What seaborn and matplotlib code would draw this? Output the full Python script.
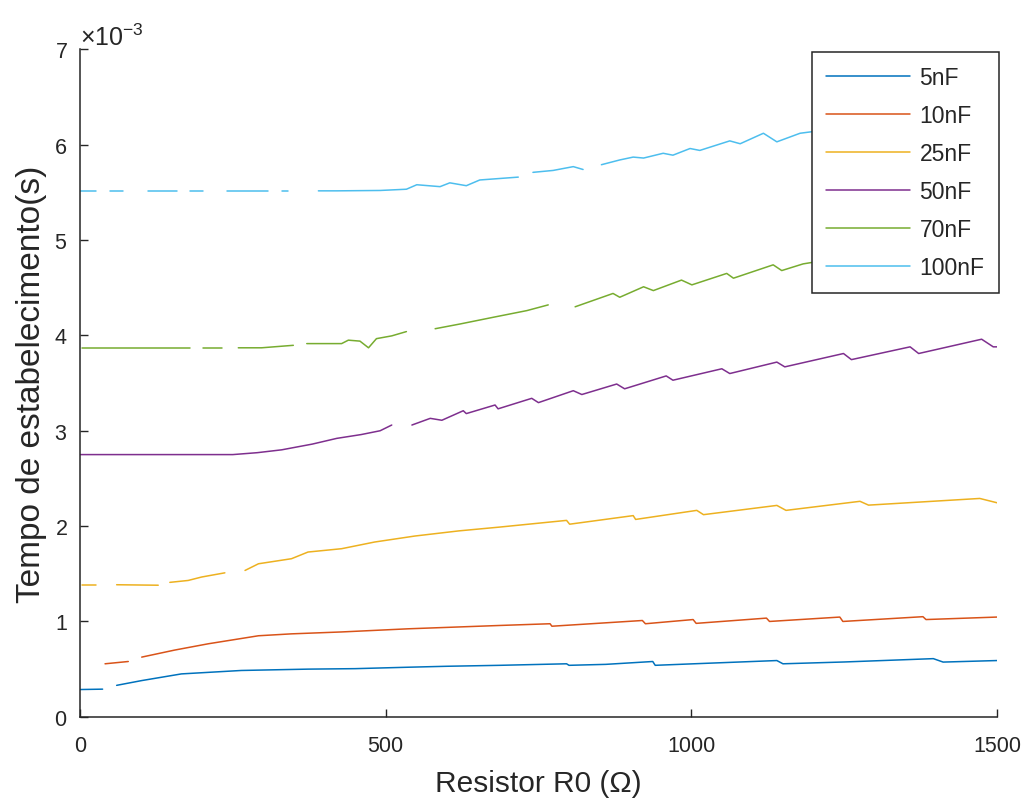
import numpy as np
import pandas as pd
import matplotlib
matplotlib.use("Agg")
import matplotlib.pyplot as plt
import seaborn as sns

nan = np.nan

# ---------------- data (y in units of 1e-3 s; nan = gap in the trace) ----------------
labels = ["5nF", "10nF", "25nF", "50nF", "70nF", "100nF"]

r_5nF = [0, 37, nan, 60, 101, 166, 264, 373, 450, 537, 600, 687, 796, 800, 860, 937, 941,
         1000, 1140, 1150, 1250, 1396, 1412, 1500]
t_5nF = [0.286, 0.29, nan, 0.33, 0.38, 0.45, 0.486, 0.50, 0.505, 0.52, 0.53, 0.54, 0.556, 0.54,
         0.55, 0.58, 0.54, 0.555, 0.59, 0.556, 0.575, 0.61, 0.574, 0.59]

r_10nF = [41, 79, nan, 101, 155, 210, 292, 346, 428, 537, 687, 769, 772, 920, 925, 1003, 1008,
          1123, 1128, 1243, 1248, 1379, 1384, 1500]
t_10nF = [0.556, 0.58, nan, 0.626, 0.70, 0.766, 0.85, 0.87, 0.89, 0.923, 0.958, 0.976, 0.95,
          1.01, 0.976, 1.02, 0.98, 1.035, 1.0, 1.046, 1.0, 1.05, 1.02, 1.046]

r_25nF = [3, 27, nan, 60, 128, nan, 147, 177, 199, 237, nan, 270, 292, 346, 373, 428, 482, 548,
          620, 687, 796, 801, 905, 909, 1009, 1020, 1140, 1155, 1276, 1290, 1472, 1500]
t_25nF = [1.385, 1.385, nan, 1.385, 1.38, nan, 1.41, 1.43, 1.466, 1.51, nan, 1.535, 1.605, 1.658,
          1.728, 1.763, 1.833, 1.896, 1.95, 1.99, 2.06, 2.02, 2.11, 2.07, 2.165, 2.12, 2.217,
          2.165, 2.26, 2.22, 2.29, 2.245]

r_50nF = [0, 250, 290, 330, 380, 420, 460, 491, 510, nan, 543, 573, 592, 627, 632, 679, 684, 739,
          750, 807, 821, 878, 891, 959, 970, 1050, 1063, 1140, 1153, 1249, 1262, 1358, 1372,
          1475, 1494, 1500]
t_50nF = [2.75, 2.75, 2.77, 2.80, 2.86, 2.92, 2.96, 3.0, 3.06, nan, 3.06, 3.13, 3.11, 3.21, 3.18,
          3.27, 3.23, 3.34, 3.295, 3.42, 3.38, 3.49, 3.44, 3.575, 3.53, 3.65, 3.6, 3.72, 3.67,
          3.81, 3.746, 3.88, 3.81, 3.96, 3.88, 3.88]

r_70nF = [3, 180, nan, 202, 232, nan, 259, 297, 349, nan, 371, 428, 439, 458, 472, 485, 510, 534,
          nan, 581, 622, 676, 731, 766, nan, 810, 872, 883, 922, 938, 984, 1001, 1058, 1069, 1134,
          1148, 1183, 1250, 1350, 1450, 1500]
t_70nF = [3.87, 3.87, nan, 3.865, 3.865, nan, 3.87, 3.87, 3.896, nan, 3.914, 3.914, 3.95, 3.94,
          3.87, 3.966, 3.995, 4.04, nan, 4.07, 4.12, 4.19, 4.26, 4.32, nan, 4.30, 4.44, 4.40,
          4.51, 4.47, 4.58, 4.53, 4.65, 4.6, 4.74, 4.68, 4.75, 4.82, 4.9, 5.0, 4.97]

r_100nF = [0, 27, nan, 49, 71, nan, 112, 158, nan, 180, 202, nan, 240, 308, nan, 330, 341, nan,
           390, 420, 491, 534, 551, 589, 605, 632, 654, 717, nan, 741, 774, 807, 823, nan, 853,
           883, 905, 922, 954, 970, 998, 1014, 1063, 1080, 1118, 1140, 1178, 1250, 1350, 1450, 1500]
t_100nF = [5.516, 5.516, nan, 5.516, 5.516, nan, 5.516, 5.516, nan, 5.516, 5.516, nan, 5.516,
           5.516, nan, 5.516, 5.516, nan, 5.516, 5.516, 5.52, 5.533, 5.58, 5.56, 5.6, 5.57, 5.63,
           5.66, nan, 5.71, 5.73, 5.77, 5.74, nan, 5.79, 5.84, 5.87, 5.86, 5.91, 5.89, 5.96,
           5.94, 6.04, 6.01, 6.12, 6.03, 6.12, 6.18, 6.25, 6.33, 6.3]

series_r = [r_5nF, r_10nF, r_25nF, r_50nF, r_70nF, r_100nF]
series_t = [t_5nF, t_10nF, t_25nF, t_50nF, t_70nF, t_100nF]

x_ticks = [0, 500, 1000, 1500]
y_ticks = [0, 1e-3, 2e-3, 3e-3, 4e-3, 5e-3, 6e-3, 7e-3]
colors = ["#0072BD", "#D95319", "#EDB120", "#7E2F8E", "#77AC30", "#4DBEEE"]

# ---------------- build long table, each unbroken trace piece is its own unit ----------------
rows = []
seg = 0
for lab, rs, ts in zip(labels, series_r, series_t):
    seg += 1
    for r, t in zip(rs, ts):
        if np.isnan(t):
            seg += 1
            continue
        rows.append((lab, seg, r, t * 1e-3))
df = pd.DataFrame(rows, columns=["C", "seg", "R", "t"])

# ---------------- style ----------------
sns.set_style("ticks")
plt.rcParams["font.family"] = ["Liberation Sans", "DejaVu Sans"]
plt.rcParams["mathtext.fontset"] = "custom"
plt.rcParams["mathtext.rm"] = "Liberation Sans"
plt.rcParams["mathtext.it"] = "Liberation Sans:italic"
text_col = "#262626"

fig = plt.figure(figsize=(10.32, 8.12), dpi=100)
ax = fig.add_axes([0.0775, 0.116, 0.8885, 0.822])

sns.lineplot(data=df, x="R", y="t", hue="C", units="seg", estimator=None, sort=False,
             hue_order=labels, palette=colors, linewidth=1.1, ax=ax)

ax.set_xlim(0, 1500)
ax.set_ylim(0, 7e-3)
ax.set_xticks(x_ticks)
ax.set_yticks(y_ticks)
ax.ticklabel_format(axis="y", style="sci", scilimits=(0, 0), useMathText=True)
ax.yaxis.get_offset_text().set_fontsize(18)
ax.yaxis.get_offset_text().set_color(text_col)

ax.tick_params(axis="both", direction="in", length=6, width=1, colors=text_col, labelsize=15.5)
ax.tick_params(axis="y", pad=9)
ax.tick_params(axis="x", pad=13)
sns.despine(ax=ax)
for s in ("left", "bottom"):
    ax.spines[s].set_color(text_col)
    ax.spines[s].set_linewidth(1.1)

ax.set_xlabel("Resistor R0 (Ω)", fontsize=21.5, color=text_col)
ax.set_ylabel("Tempo de estabelecimento(s)", fontsize=24, color=text_col)
ax.xaxis.set_label_coords(0.5, -0.078)
ax.yaxis.set_label_coords(-0.036, 0.5)

sns.move_legend(ax, "upper right", title=None, frameon=True, fancybox=False, framealpha=1,
                edgecolor="#262626", fontsize=16.5, handlelength=3.67, handletextpad=0.4,
                labelspacing=0.65, borderpad=0.62, borderaxespad=0.0,
                bbox_to_anchor=(1.002, 0.996))
leg = ax.get_legend()
leg.get_frame().set_linewidth(1.1)
leg.set_zorder(5)
for txt in leg.get_texts():
    txt.set_color(text_col)

fig.savefig("out.png", dpi=100)
